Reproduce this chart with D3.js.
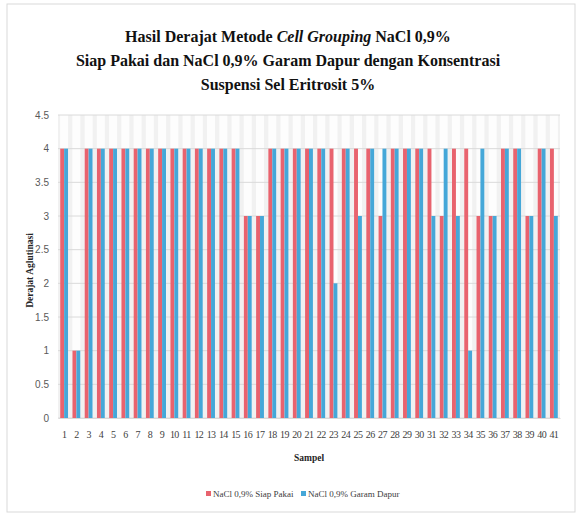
<!DOCTYPE html>
<html>
<head>
<meta charset="utf-8">
<script src="https://cdn.jsdelivr.net/npm/d3@7"></script>
<style>
  body { margin: 0; background: #fff; }
  svg { display: block; }
</style>
</head>
<body>
<div id="chart"></div>
<script>
// Hasil derajat aglutinasi per sampel
const samples = d3.range(1, 42).map(String);
const siapPakai = [4, 1, 4, 4, 4, 4, 4, 4, 4, 4, 4, 4, 4, 4, 4, 3, 3, 4, 4, 4,
                   4, 4, 4, 4, 4, 4, 3, 4, 4, 4, 4, 3, 4, 4, 3, 3, 4, 4, 3, 4, 4];
const garamDapur = [4, 1, 4, 4, 4, 4, 4, 4, 4, 4, 4, 4, 4, 4, 4, 3, 3, 4, 4, 4,
                    4, 4, 2, 4, 3, 4, 4, 4, 4, 4, 3, 4, 3, 1, 4, 3, 4, 4, 3, 4, 3];
const yTicks = [0, 0.5, 1, 1.5, 2, 2.5, 3, 3.5, 4, 4.5];
const seriesNames = ["NaCl 0,9% Siap Pakai", "NaCl 0,9% Garam Dapur"];
const colors = ["#e8636e", "#45a7d8"];

const width = 579, height = 517;
const margin = { top: 115, left: 58, right: 20, bottom: 99 };

const svg = d3.select("#chart").append("svg")
  .attr("width", width)
  .attr("height", height);

// chart border
svg.append("rect")
  .attr("x", 7).attr("y", 4)
  .attr("width", 568).attr("height", 508)
  .attr("fill", "#fff")
  .attr("stroke", "#d9d9d9");

// title
const title = svg.append("text")
  .attr("text-anchor", "middle")
  .style("font-family", "'Liberation Serif', 'Times New Roman', serif")
  .style("font-weight", "bold")
  .style("font-size", "16px")
  .attr("fill", "#111");
const t1 = title.append("tspan").attr("x", 288).attr("y", 42);
t1.append("tspan").text("Hasil Derajat Metode ");
t1.append("tspan").style("font-style", "italic").text("Cell Grouping");
t1.append("tspan").text(" NaCl 0,9%");
title.append("tspan").attr("x", 288).attr("y", 66)
  .text("Siap Pakai dan NaCl 0,9% Garam Dapur dengan Konsentrasi");
title.append("tspan").attr("x", 288).attr("y", 90)
  .text("Suspensi Sel Eritrosit 5%");

const x0 = d3.scaleBand()
  .domain(samples)
  .range([margin.left, width - margin.right + 1])
  .paddingInner(0.36)
  .paddingOuter(0.18);

const x1 = d3.scaleBand()
  .domain([0, 1])
  .range([0, x0.bandwidth()]);

const y = d3.scaleLinear()
  .domain([0, 4.5])
  .range([height - margin.bottom, margin.top]);

const plotLeft = margin.left, plotRight = width - margin.right + 1;

// plot background
svg.append("rect")
  .attr("x", plotLeft).attr("y", y(4.5))
  .attr("width", plotRight - plotLeft)
  .attr("height", y(0) - y(4.5))
  .attr("fill", "#f1f1f1");

// vertical separators
svg.append("g")
  .selectAll("line")
  .data(samples)
  .join("line")
  .attr("x1", d => x0(d) + x0.bandwidth() / 2)
  .attr("x2", d => x0(d) + x0.bandwidth() / 2)
  .attr("y1", y(4.5)).attr("y2", y(0))
  .attr("stroke", "#fdfdfd")
  .attr("stroke-width", 8);

// horizontal gridlines
svg.append("g")
  .selectAll("line")
  .data(yTicks)
  .join("line")
  .attr("x1", plotLeft).attr("x2", plotRight)
  .attr("y1", d => y(d)).attr("y2", d => y(d))
  .attr("stroke", "#dadada")
  .attr("stroke-width", 1);

// bars
const groups = svg.append("g")
  .selectAll("g")
  .data(samples)
  .join("g")
  .attr("transform", d => `translate(${x0(d)},0)`);

groups.selectAll("rect")
  .data((d, i) => [siapPakai[i], garamDapur[i]])
  .join("rect")
  .attr("x", (d, j) => x1(j))
  .attr("width", x1.bandwidth())
  .attr("y", d => y(d))
  .attr("height", d => y(0) - y(d))
  .attr("fill", (d, j) => colors[j]);

// y axis labels
const yAxis = svg.append("g")
  .attr("transform", `translate(${plotLeft},0)`)
  .call(d3.axisLeft(y).tickValues(yTicks).tickFormat(d => String(d)).tickSize(0).tickPadding(9));
yAxis.select(".domain").remove();
yAxis.selectAll("text")
  .style("font-family", "'Liberation Sans Narrow', 'Liberation Sans', sans-serif")
  .style("font-size", "10px")
  .attr("fill", "#595959");

// x axis labels
const xAxis = svg.append("g")
  .attr("transform", `translate(0,${y(0)})`)
  .call(d3.axisBottom(x0).tickSize(0).tickPadding(13));
xAxis.select(".domain")
  .attr("stroke", "#d9d9d9");
xAxis.selectAll("text")
  .style("font-family", "'Liberation Serif', 'Times New Roman', serif")
  .style("font-size", "10px")
  .style("letter-spacing", "-0.6px")
  .attr("fill", "#404040");

// axis titles
svg.append("text")
  .attr("transform", `translate(33,${(y(0) + y(4.5)) / 2 + 4}) rotate(-90)`)
  .attr("text-anchor", "middle")
  .style("font-family", "'Liberation Serif', 'Times New Roman', serif")
  .style("font-weight", "bold")
  .style("font-size", "9.5px")
  .attr("fill", "#262626")
  .text("Derajat Aglutinasi");

svg.append("text")
  .attr("x", (plotLeft + plotRight) / 2)
  .attr("y", 461)
  .attr("text-anchor", "middle")
  .style("font-family", "'Liberation Serif', 'Times New Roman', serif")
  .style("font-weight", "bold")
  .style("font-size", "9.5px")
  .attr("fill", "#262626")
  .text("Sampel");

// legend
const legendX = [206, 301];
const legend = svg.append("g")
  .selectAll("g")
  .data(seriesNames)
  .join("g")
  .attr("transform", (d, i) => `translate(${legendX[i]},497)`);
legend.append("rect")
  .attr("x", 0).attr("y", -6)
  .attr("width", 5).attr("height", 5)
  .attr("fill", (d, i) => colors[i]);
legend.append("text")
  .attr("x", 7).attr("y", 0)
  .style("font-family", "'Liberation Serif', 'Times New Roman', serif")
  .style("font-size", "9px")
  .attr("fill", "#404040")
  .text(d => d);
</script>
</body>
</html>
